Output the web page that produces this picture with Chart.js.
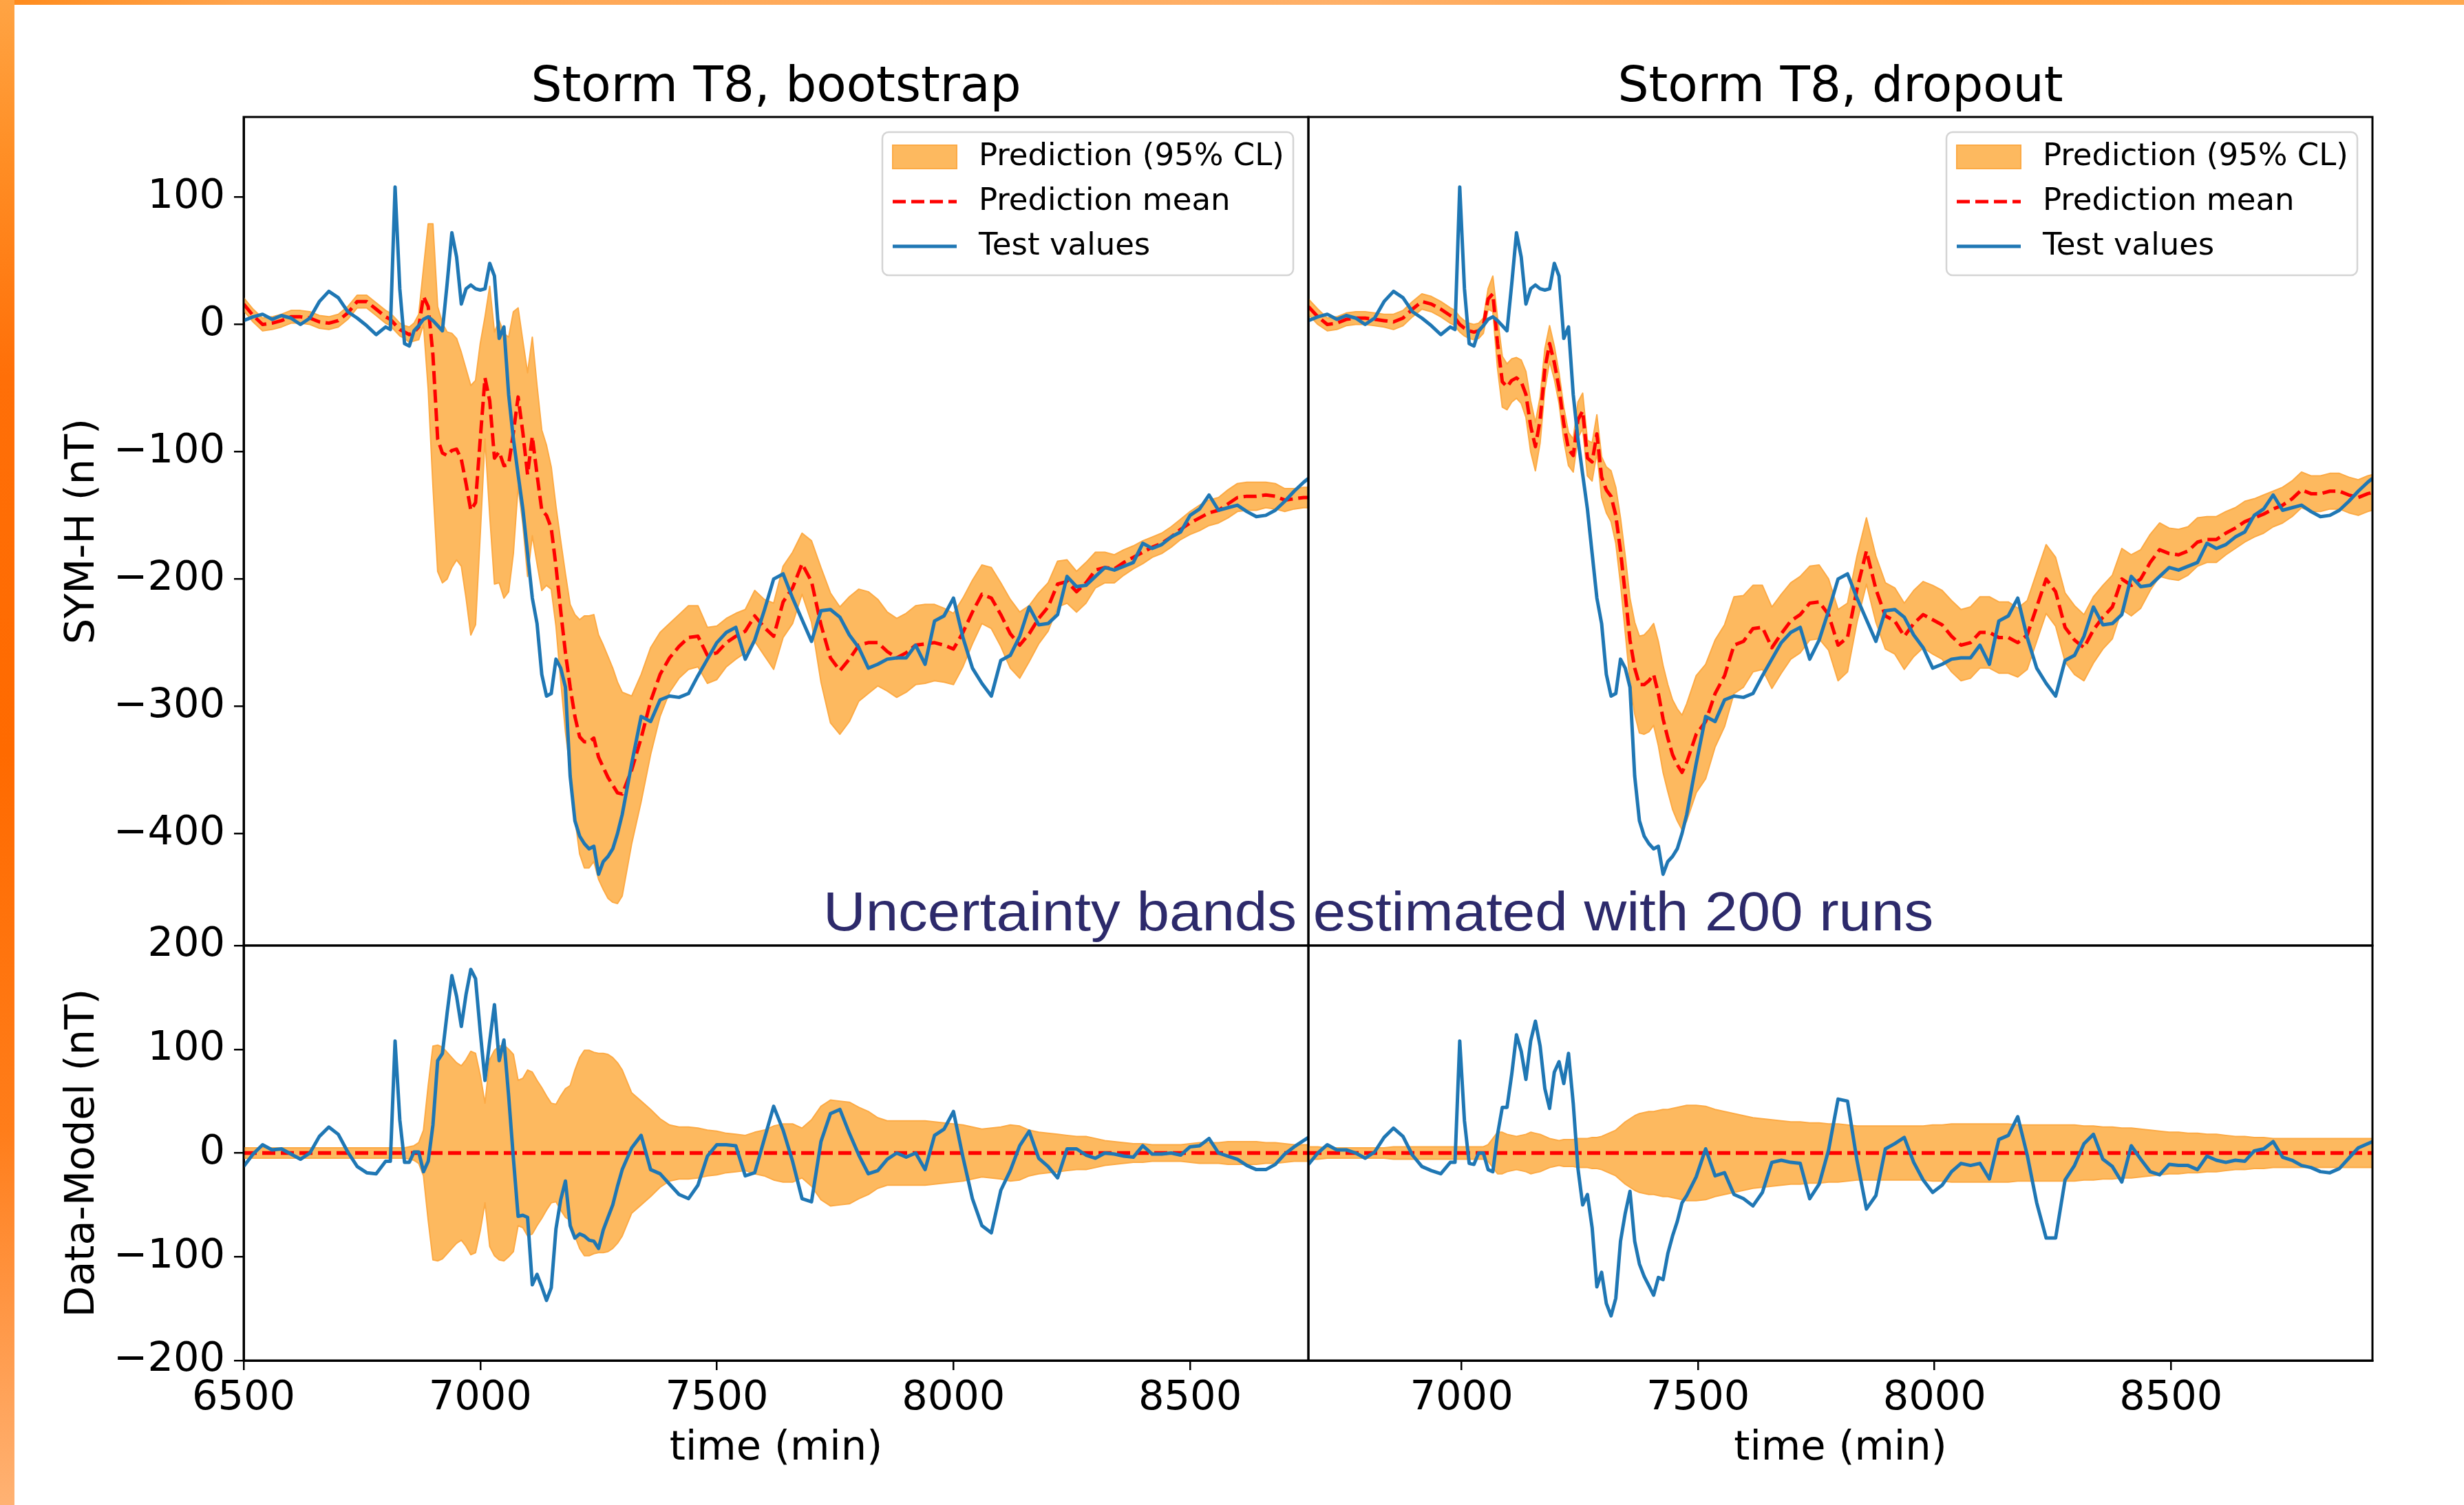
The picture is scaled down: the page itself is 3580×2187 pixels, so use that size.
<!DOCTYPE html>
<html>
<head>
<meta charset="utf-8">
<script src="https://cdn.jsdelivr.net/npm/chart.js"></script>
<style>
  html, body { margin: 0; padding: 0; background: #fff; }
  body { width: 3580px; height: 2187px; position: relative; overflow: hidden; }
  .bar-top { position: absolute; left: 0; top: 0; width: 3580px; height: 7px;
    background: linear-gradient(to right, #ff8a1a 0%, #ffa54f 10%, #ffb068 55%, #ff9d3d 80%, #ffa84f 100%); }
  .bar-left { position: absolute; left: 0; top: 0; width: 21px; height: 2187px;
    background: linear-gradient(to bottom, #ffa444 0%, #ff8f26 10%, #ff6f08 25%, #ff6a00 50%, #ff7d1a 75%, #ffb273 100%); }
  canvas { position: absolute; }
  #note { position: absolute; left: 1196px; top: 1285px; font-family: "Liberation Sans", Arial, sans-serif;
    font-size: 80px; line-height: 80px; color: #2d2a6b; white-space: nowrap;
    transform: scaleX(1.067); transform-origin: left top; z-index: 5; }
</style>
</head>
<body>
<div class="bar-top"></div>
<div class="bar-left"></div>
<canvas id="bootTop" width="1905" height="1376" style="left:0;top:0"></canvas>
<canvas id="bootBot" width="1905" height="873" style="left:0;top:1314px"></canvas>
<canvas id="dropTop" width="1554" height="1376" style="left:1897px;top:0"></canvas>
<canvas id="dropBot" width="1554" height="873" style="left:1897px;top:1314px"></canvas>
<div id="note">Uncertainty bands estimated with 200 runs</div>

<script>
// time grid (min), storm T8
const time = [
  6500, 6520, 6540, 6560, 6580, 6600, 6620, 6640, 6660, 6680, 6700, 6720, 6740, 6760, 6780,
  6800, 6810, 6820, 6830, 6840, 6850, 6860, 6870, 6880, 6890,
  6900, 6910, 6920, 6930, 6940, 6950, 6960, 6970, 6980, 6990,
  7000, 7010, 7020, 7030, 7040, 7050, 7060, 7070, 7080, 7090,
  7100, 7110, 7120, 7130, 7140, 7150, 7160, 7170, 7180, 7190,
  7200, 7210, 7220, 7230, 7240, 7250, 7260, 7270, 7280, 7290,
  7300,
  7320, 7340, 7360, 7380, 7400, 7420, 7440, 7460, 7480, 7500,
  7520, 7540, 7560, 7580, 7600, 7620, 7640, 7660, 7680, 7700,
  7720, 7740, 7760, 7780, 7800, 7820, 7840, 7860, 7880, 7900,
  7920, 7940, 7960, 7980, 8000,
  8020, 8040, 8060, 8080, 8100, 8120, 8140, 8160, 8180, 8200,
  8220, 8240, 8260, 8280, 8300, 8320, 8340, 8360, 8380, 8400,
  8420, 8440, 8460, 8480, 8500, 8520, 8540, 8560, 8580, 8600,
  8620, 8640, 8660, 8680, 8700, 8720, 8740, 8750
];

// SYM-H test values (nT)
const testValues = [
  3, 6, 8, 4, 7, 5, 0, 5, 18, 26, 21, 10, 5, -1, -8,
  -2, -4, 108, 28, -15, -17, -5, -1, 4, 6,
  3, -1, -5, 32, 72, 53, 16, 28, 31, 28,
  27, 28, 48, 38, -11, -2, -55, -90, -118, -145,
  -180, -215, -235, -275, -292, -290, -263, -270, -285, -355,
  -390, -402, -408, -412, -410, -432, -422, -418, -412, -400,
  -385,
  -345, -308, -312, -295, -292, -293, -290, -276, -263, -250,
  -242, -238, -263, -248, -225, -200, -196, -215, -232, -249,
  -225, -224, -230, -244, -254, -270, -267, -263, -262, -262,
  -252, -267, -233, -229, -215,
  -246, -270, -282, -292, -264, -260, -245, -222, -236, -235,
  -228, -198, -206, -205, -198, -191, -193, -190, -187, -172,
  -176, -173, -167, -163, -150, -145, -134, -146, -144, -142,
  -147, -151, -150, -146, -139, -131, -124, -121
];

// bootstrap: prediction mean and 95% half width
const bootMean = [
  16, 7, 0, 1, 3, 6, 6, 5, 2, 1, 3, 9, 18, 18, 12,
  6, 4, 0, -4, -6, -8, -6, -2, 22, 14,
  -24, -90, -101, -103, -99, -98, -106, -125, -146, -140,
  -90, -42, -60, -105, -100, -111, -110, -85, -57, -85,
  -118, -88, -118, -146, -150, -160, -190, -225, -258, -285,
  -308, -324, -328, -328, -325, -340, -348, -356, -362, -368,
  -369,
  -350, -325, -296, -275, -262, -253, -246, -245, -260, -258,
  -250, -245, -241, -229, -238, -245, -218, -207, -188, -202,
  -236, -262, -272, -263, -252, -250, -250, -257, -262, -258,
  -252, -251, -250, -252, -255,
  -242, -226, -212, -215, -228, -243, -252, -243, -231, -222,
  -204, -202, -210, -203, -193, -191, -192, -187, -183, -179,
  -175, -172, -167, -161, -156, -152, -148, -146, -141, -136,
  -135, -135, -134, -135, -138, -137, -136, -136
];
const bootHalfWidth = [
  5, 5, 5, 5, 5, 5, 5, 5, 5, 5, 5, 5, 5, 5, 5,
  5, 5, 5, 5, 5, 6, 7, 10, 22, 65,
  103, 104, 102, 97, 92, 87, 84, 90, 98, 96,
  75, 48, 90, 99, 103, 104, 100, 95, 70, 72,
  80, 78, 70, 63, 55, 48, 47, 55, 62, 65,
  80, 92, 99, 99, 97, 96, 96, 95, 92, 87,
  80,
  58, 50, 42, 33, 27, 25, 25, 24, 22, 21,
  19, 18, 17, 20, 22, 26, 28, 28, 24, 32,
  45, 51, 50, 49, 44, 40, 34, 31, 31, 31,
  31, 31, 30, 29, 28,
  27, 25, 23, 24, 25, 27, 26, 22, 20, 19,
  18, 17, 16, 16, 14, 12, 11, 10, 9, 9,
  8, 8, 8, 8, 9, 10, 10, 10, 11, 11,
  11, 11, 10, 10, 9, 8, 8, 8
];

// dropout: prediction mean and 95% half width
const dropMean = [
  14, 6, 0, 1, 4, 5, 5, 4, 3, 2, 5, 12, 18, 16, 12,
  7, 5, 0, -3, -5, -6, -5, -1, 20, 24,
  -15, -45, -49, -44, -42, -45, -55, -80, -96, -75,
  -35, -15, -30, -50, -78, -98, -103, -75, -68, -105,
  -108, -86, -120, -130, -135, -150, -178, -212, -248, -270,
  -283, -283, -280, -275, -290, -310, -325, -338, -346, -352,
  -344,
  -322, -312, -290, -276, -252, -249, -239, -238, -254, -243,
  -233, -228, -219, -218, -228, -252, -246, -208, -178, -208,
  -229, -233, -245, -235, -228, -232, -236, -245, -252, -250,
  -242, -242, -246, -246, -250,
  -244, -222, -200, -210, -238, -248, -254, -240, -230, -222,
  -200, -205, -200, -187, -177, -180, -181, -178, -171, -169,
  -169, -164, -160, -155, -152, -149, -145, -142, -137, -130,
  -133, -133, -131, -131, -134, -136, -133, -132
];
const dropHalfWidth = [
  6, 6, 5, 5, 5, 5, 5, 5, 5, 6, 6, 6, 6, 6, 6,
  6, 6, 6, 6, 6, 6, 6, 6, 8, 14,
  20, 20, 18, 17, 16, 17, 18, 20, 19, 18,
  16, 14, 13, 12, 13, 13, 13, 14, 14, 14,
  15, 15, 16, 18, 20, 22, 26, 30, 33, 36,
  38, 39, 40, 40, 41, 42, 42, 43, 44, 45,
  46,
  46, 45, 42, 40, 38, 36, 34, 33, 32, 31,
  30, 30, 29, 29, 28, 28, 27, 26, 26, 26,
  26, 26, 26, 26, 26, 27, 27, 28, 28, 28,
  28, 28, 28, 28, 27,
  27, 27, 27, 27, 27, 27, 26, 26, 25, 25,
  24, 24, 23, 22, 21, 20, 20, 19, 19, 18,
  18, 17, 16, 16, 15, 15, 14, 14, 14, 14,
  14, 14, 14, 14, 14, 14, 14, 14
];

// the dropout panel's time axis is labelled with an offset
const dropoutAxisShift = 176;
const timeRange = [6500, 8750];
const timeTicks = [6500, 7000, 7500, 8000, 8500, 9000];
const topRange = [-488, 163];
const topTicks = [-400, -300, -200, -100, 0, 100];
const bottomRange = [-200, 200];
const bottomTicks = [-200, -100, 0, 100, 200];

const FONT = 'DejaVu Sans';
const BLUE = '#1f77b4';
const RED = '#ff0000';
const BAND = '#fdb95f';
const BAND_EDGE = '#fcaa45';
const tickFont = { family: FONT, size: 59 };
const fmt = v => String(v).replace('-', '\u2212');

function pts(xs, ys) {
  return xs.map((x, i) => ({ x: x, y: ys[i] }));
}

function makeDatasets(xs, test, mean, lower, upper, meanWidth) {
  return [
    { label: 'Test values', data: pts(xs, test), borderColor: BLUE, borderWidth: 5, fill: false },
    { label: 'Prediction mean', data: pts(xs, mean), borderColor: RED, borderWidth: meanWidth,
      borderDash: [19, 8], borderCapStyle: 'butt', fill: false },
    { label: 'Prediction (95% CL)', data: pts(xs, upper), borderColor: BAND_EDGE, borderWidth: 2,
      backgroundColor: BAND, fill: '+1' },
    { label: '', data: pts(xs, lower), borderColor: BAND_EDGE, borderWidth: 2, fill: false }
  ];
}

// axes frame plus the panel title centred over the plot area
const framePlugin = {
  id: 'frame',
  afterDraw(chart, args, opts) {
    const { ctx, chartArea: a } = chart;
    ctx.save();
    ctx.strokeStyle = '#000';
    ctx.lineWidth = 3;
    ctx.strokeRect(a.left, a.top, a.right - a.left, a.bottom - a.top);
    if (opts.title) {
      ctx.fillStyle = '#000';
      ctx.font = '71px "' + FONT + '"';
      ctx.textAlign = 'center';
      ctx.textBaseline = 'middle';
      ctx.fillText(opts.title, (a.left + a.right) / 2, a.top - 41);
    }
    ctx.restore();
  }
};

const boxLegend = {
  id: 'boxLegend',
  afterDraw(chart, args, opts) {
    if (!opts.show) return;
    const { ctx, chartArea: a } = chart;
    const ds = chart.data.datasets;
    const w = 597, h = 208;
    const x = a.right - 22 - w, y = a.top + 22;
    ctx.save();
    ctx.beginPath();
    ctx.roundRect(x, y, w, h, 9);
    ctx.fillStyle = 'rgba(255,255,255,0.85)';
    ctx.fill();
    ctx.strokeStyle = '#d4d4d4';
    ctx.lineWidth = 2.5;
    ctx.stroke();
    ctx.font = '45px "' + FONT + '"';
    ctx.textBaseline = 'middle';
    opts.items.forEach((idx, row) => {
      const d = ds[idx];
      const cy = y + 36 + row * 65;
      const hx = x + 15, hw = 93;
      if (d.fill) {
        ctx.fillStyle = d.backgroundColor;
        ctx.fillRect(hx, cy - 17, hw, 34);
        ctx.strokeStyle = d.borderColor;
        ctx.lineWidth = 2;
        ctx.strokeRect(hx, cy - 17, hw, 34);
      } else {
        ctx.beginPath();
        ctx.setLineDash(d.borderDash || []);
        ctx.strokeStyle = d.borderColor;
        ctx.lineWidth = d.borderWidth;
        ctx.moveTo(hx, cy);
        ctx.lineTo(hx + hw, cy);
        ctx.stroke();
        ctx.setLineDash([]);
      }
      ctx.fillStyle = '#000';
      ctx.fillText(d.label, x + 140, cy);
    });
    ctx.restore();
  }
};

function fixedTicks(values) {
  return s => { s.ticks = values.filter(v => v >= s.min && v <= s.max).map(v => ({ value: v })); };
}

// fixed axis box sizes; no extra padding for labels hanging past the ends
function fixSize(key, size) {
  return s => {
    s[key] = size;
    s.paddingTop = s.paddingBottom = s.paddingLeft = s.paddingRight = 0;
  };
}

function xScale(range, show) {
  return {
    type: 'linear', position: 'bottom', min: range[0], max: range[1], display: show,
    afterBuildTicks: fixedTicks(timeTicks),
    afterFit: fixSize('height', show ? 210 : 0),
    ticks: { autoSkip: false, maxRotation: 0, minRotation: 0,
      color: '#000', font: tickFont, padding: 6, callback: fmt },
    grid: { drawOnChartArea: false, tickLength: 14, color: '#000', lineWidth: 2.5 },
    border: { display: true, color: '#000', width: 3 },
    title: { display: show, text: 'time (min)', color: '#000', font: tickFont, padding: { top: 0, bottom: 46 } }
  };
}

function yScale(range, ticks, show, label) {
  return {
    type: 'linear', position: 'left', min: range[0], max: range[1], display: show,
    afterBuildTicks: fixedTicks(ticks),
    afterFit: fixSize('width', show ? 354 : 0),
    ticks: { autoSkip: false, color: '#000', font: tickFont, padding: 13, callback: fmt },
    grid: { drawOnChartArea: false, tickLength: 14, color: '#000', lineWidth: 2.5 },
    border: { display: true, color: '#000', width: 3 },
    title: { display: show, text: label, color: '#000', font: tickFont, padding: { top: 85, bottom: 0 } }
  };
}

function panel(id, p) {
  return new Chart(document.getElementById(id), {
    type: 'line',
    data: { datasets: p.datasets },
    options: {
      responsive: false,
      animation: false,
      devicePixelRatio: 1,
      events: [],
      layout: { padding: p.padding, autoPadding: false },
      elements: { point: { radius: 0 }, line: { tension: 0, borderJoinStyle: 'round' } },
      scales: { x: p.x, y: p.y },
      plugins: {
        legend: { display: false },
        tooltip: { enabled: false },
        title: { display: false },
        filler: { drawTime: 'beforeDatasetsDraw' },
        frame: { title: p.title || '' },
        boxLegend: { show: !!p.legend, items: [2, 1, 0] }
      }
    },
    plugins: [framePlugin, boxLegend]
  });
}

const dropTime = time.map(t => t + dropoutAxisShift);
const dropRange = [timeRange[0] + dropoutAxisShift, timeRange[1] + dropoutAxisShift];
const minus = (a, b) => a.map((v, i) => v - b[i]);
const plus = (a, b) => a.map((v, i) => v + b[i]);
const neg = a => a.map(v => -v);

panel('bootTop', {
  title: 'Storm T8, bootstrap', legend: true,
  padding: { left: 0, top: 170, right: 4, bottom: 2 },
  x: xScale(timeRange, false),
  y: yScale(topRange, topTicks, true, 'SYM-H (nT)'),
  datasets: makeDatasets(time, testValues, bootMean,
    minus(bootMean, bootHalfWidth), plus(bootMean, bootHalfWidth), 5)
});

panel('bootBot', {
  padding: { left: 0, top: 60, right: 4, bottom: 0 },
  x: xScale(timeRange, true),
  y: yScale(bottomRange, bottomTicks, true, 'Data-Model (nT)'),
  datasets: makeDatasets(time, minus(testValues, bootMean), minus(bootMean, bootMean),
    neg(bootHalfWidth), bootHalfWidth, 5.5)
});

panel('dropTop', {
  title: 'Storm T8, dropout', legend: true,
  padding: { left: 4, top: 170, right: 4, bottom: 2 },
  x: xScale(dropRange, false),
  y: yScale(topRange, topTicks, false, ''),
  datasets: makeDatasets(dropTime, testValues, dropMean,
    minus(dropMean, dropHalfWidth), plus(dropMean, dropHalfWidth), 5)
});

panel('dropBot', {
  padding: { left: 4, top: 60, right: 4, bottom: 0 },
  x: xScale(dropRange, true),
  y: yScale(bottomRange, bottomTicks, false, ''),
  datasets: makeDatasets(dropTime, minus(testValues, dropMean), minus(dropMean, dropMean),
    neg(dropHalfWidth), dropHalfWidth, 5.5)
});
</script>
</body>
</html>
